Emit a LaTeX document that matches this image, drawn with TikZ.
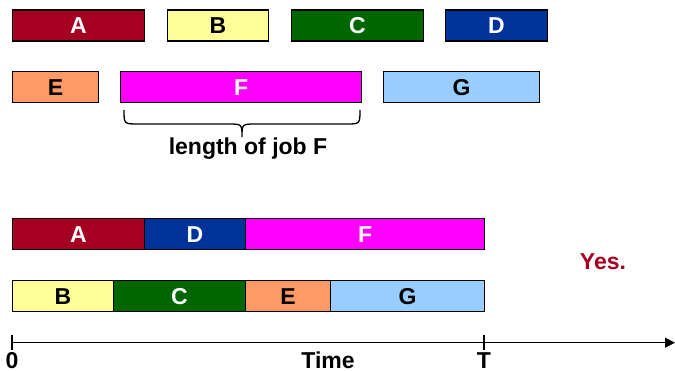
\documentclass[tikz,border=0pt]{standalone}
\usepackage{fontspec}
\setmainfont{Liberation Sans}
\usetikzlibrary{arrows.meta}
\definecolor{jA}{HTML}{A50021}
\definecolor{jB}{HTML}{FFFF99}
\definecolor{jC}{HTML}{006600}
\definecolor{jD}{HTML}{003399}
\definecolor{jE}{HTML}{FF9966}
\definecolor{jF}{HTML}{FF00FF}
\definecolor{jG}{HTML}{99CCFF}
\definecolor{yescol}{HTML}{A50021}
\begin{document}
\begin{tikzpicture}[x=1pt,y=-1pt,
  font=\fontsize{23}{26}\selectfont\bfseries,
  job/.style={draw=black, line width=1.1pt, minimum height=31pt, inner sep=0pt,
    anchor=north west, text height=16pt, text depth=0pt},
  lt/.style={text=white},
  dk/.style={text=black},
  axislbl/.style={inner sep=0pt, anchor=center}]
\useasboundingbox (0,0) rectangle (675,371);
% top jobs
\node[job, fill=jA, lt, minimum width=132pt] (A) at (12,9.5) {A};
\node[job, fill=jB, dk, minimum width=101pt] (B) at (167,9.5) {B};
\node[job, fill=jC, lt, minimum width=132pt] (C) at (291,9.5) {C};
\node[job, fill=jD, lt, minimum width=102pt] (D) at (445,9.5) {D};
\node[job, fill=jE, dk, minimum width=86pt] (E) at (12,71.3) {E};
\node[job, fill=jF, lt, minimum width=241pt] (F) at (120,71.3) {F};
\node[job, fill=jG, dk, minimum width=156pt] (G) at (383,71.3) {G};
% brace
\draw[line width=1.3pt] (124,110) .. controls (124,124) .. (138,124) -- (228,124)
  .. controls (242,124) .. (242,137) .. controls (242,124) .. (256,124) -- (346,124)
  .. controls (360,124) .. (360,110);
\node[inner sep=0pt] (lenF) at (248,149) {length of job F};
% schedule
\node[job, fill=jA, lt, minimum width=132pt] (A2) at (12,218) {A};
\node[job, fill=jD, lt, minimum width=101pt] (D2) at (144,218) {D};
\node[job, fill=jF, lt, minimum width=239pt] (F2) at (245,218) {F};
\node[job, fill=jB, dk, minimum width=101pt] (B2) at (12,280) {B};
\node[job, fill=jC, lt, minimum width=132pt] (C2) at (113,280) {C};
\node[job, fill=jE, dk, minimum width=85pt] (E2) at (245,280) {E};
\node[job, fill=jG, dk, minimum width=154pt] (G2) at (330,280) {G};
\node[text=yescol, inner sep=0pt] (yes) at (603,262) {Yes.};
% axis
\coordinate (o) at (12,342.7);
\coordinate (tT) at (484,342.7);
\coordinate (end) at (675,342.7);
\draw[line width=1.3pt, -{Triangle[length=10pt,width=10pt]}] (o) -- (end);
\draw[line width=1.3pt] (12,335) -- (12,350);
\draw[line width=1.3pt] (484,335) -- (484,350);
\node[axislbl] (zero) at (12,360.5) {0};
\node[axislbl] (time) at (328,360.5) {Time};
\node[axislbl] (T) at (484,360.5) {T};
\end{tikzpicture}
\end{document}
